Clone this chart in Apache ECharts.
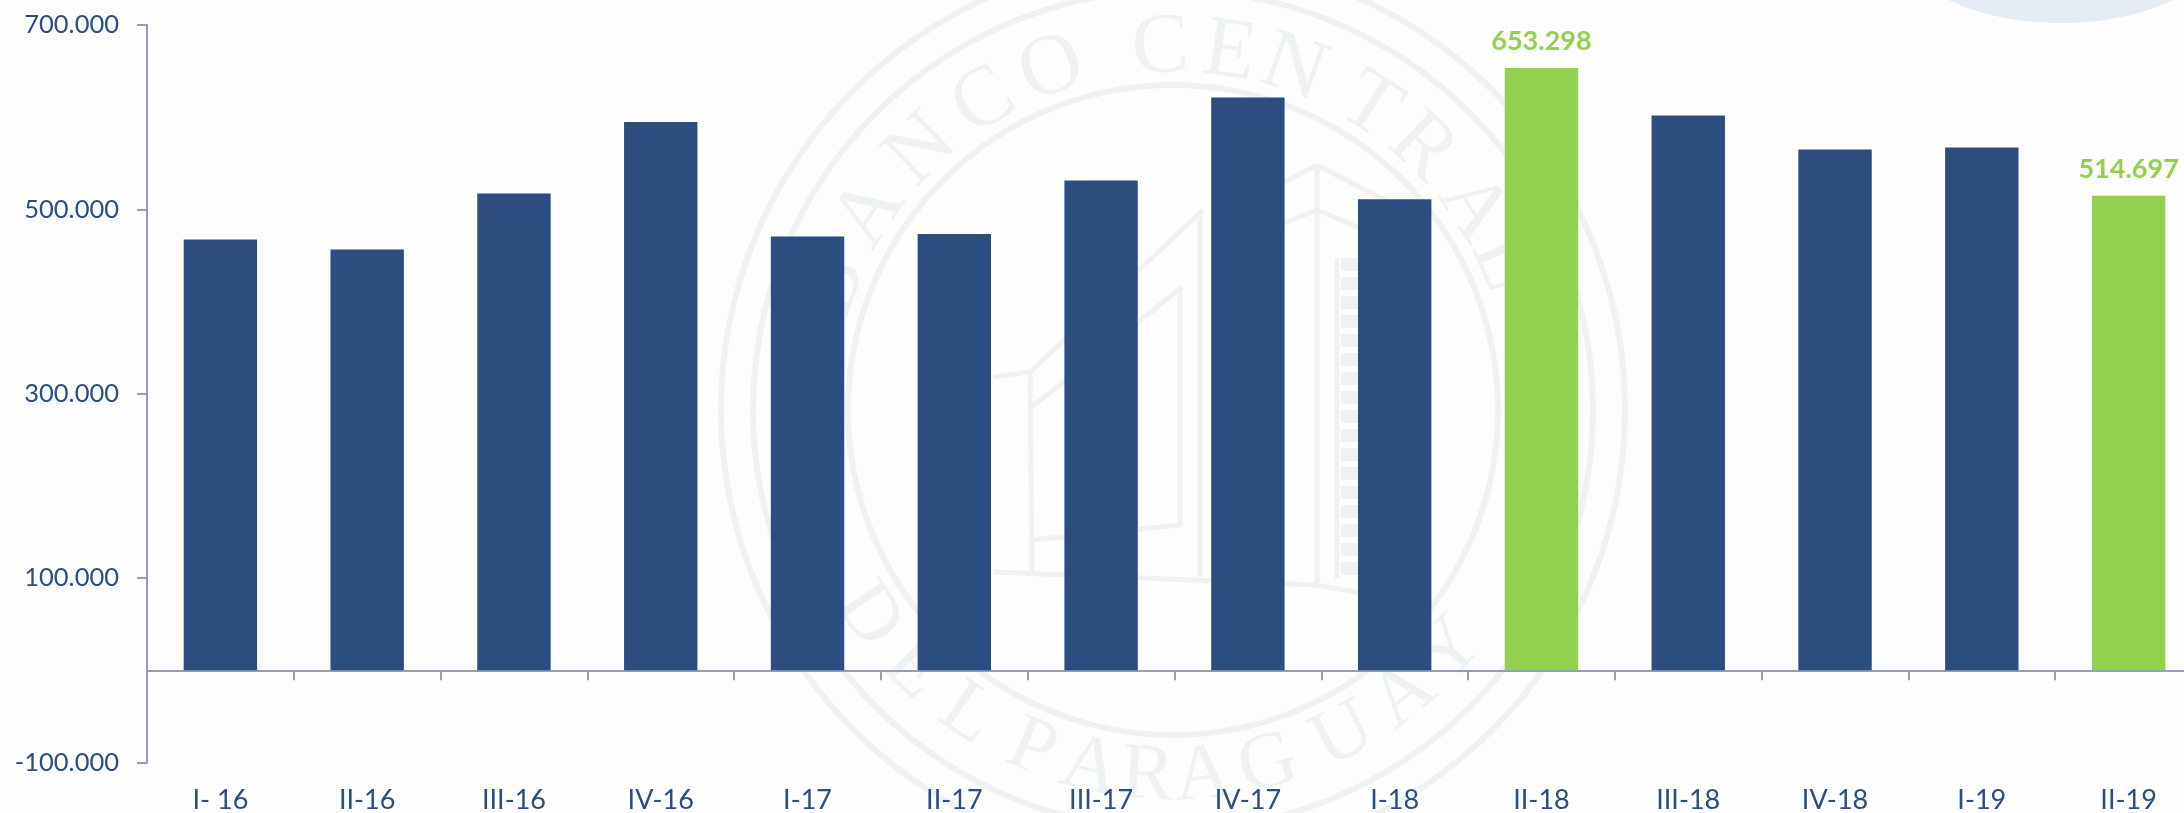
<!DOCTYPE html>
<html>
<head>
<meta charset="utf-8">
<style>html,body{margin:0;padding:0;background:#fdfdfd}#c{width:2184px;height:813px}</style>
<script src="https://cdn.jsdelivr.net/npm/echarts@6/dist/echarts.min.js"></script>
</head>
<body>
<div id="c"></div>
<script>
const categories = ['I- 16','II-16','III-16','IV-16','I-17','II-17','III-17','IV-17','I-18','II-18','III-18','IV-18','I-19','II-19'];
const values = [467300,456400,517200,594700,470600,473400,531400,621400,511100,653298,601700,565000,567100,514697];
const highlighted = ['II-18','II-19'];
const yTicks = [-100000,100000,300000,500000,700000];

const NAVY = '#2b4d7f', GREEN = '#92d14f', AXIS = '#929eb8', WM = '#eef3f1';
const FONT = 'Lato';

// Watermark seal (decoration)
const sealCx = 1173, sealCy = 410;
const sealRings = [452, 420, 325];
const sealTopLetters = ['B','A','N','C','O','C','E','N','T','R','A','L'];
const sealTopAngles = [-70,-57,-44,-31.5,-19.6,-2,9,19.5,33,43.5,56,66];
const sealBottomLetters = ['D','E','L','P','A','R','A','G','U','A','Y'];
const sealBottomAngles = [56,45,34,22.6,13,4,-4.7,-15,-27.6,-39,-49];
const sealLines = [
  [[1317,165],[1317,584]],
  [[1317,165],[1240,205]],
  [[1317,165],[1420,218]],
  [[1317,210],[1240,240]],
  [[1317,210],[1400,245]],
  [[1203,210],[1030,372],[993,377]],
  [[1182,287],[1032,407]],
  [[1030,372],[1032,572]],
  [[1180,287],[1180,525],[1032,540]],
  [[1200,210],[1200,577]],
  [[993,572],[1317,585],[1430,606]],
  [[1337,258],[1337,578]]
];

function sealGraphics() {
  const out = [];
  sealRings.forEach(r => out.push({type:'circle',silent:true,z:-10,shape:{cx:sealCx,cy:sealCy,r:r},style:{fill:'none',stroke:WM,lineWidth:6}}));
  const letter = (ch, deg, r, sign, size) => {
    const a = deg*Math.PI/180;
    out.push({type:'text',silent:true,z:-10,
      x: sealCx + sign*r*Math.sin(a),
      y: sealCy - sign*r*Math.cos(a),
      rotation: -a,
      style:{text:ch,fill:WM,font:size+'px "Liberation Serif"',align:'center',verticalAlign:'middle'}});
  };
  sealTopLetters.forEach((c,i)=>letter(c,sealTopAngles[i],361,1,86));
  sealBottomLetters.forEach((c,i)=>letter(c,sealBottomAngles[i],368,-1,80));
  sealLines.forEach(p => out.push({type:'polyline',silent:true,z:-10,shape:{points:p},style:{fill:'none',stroke:WM,lineWidth:5}}));
  out.push({type:'line',silent:true,z:-10,shape:{x1:1350,y1:258,x2:1350,y2:578},style:{stroke:WM,lineWidth:18,lineDash:[13,6]}});
  out.push({type:'ellipse',silent:true,z:-10,shape:{cx:2061,cy:-57,rx:160,ry:80},style:{fill:'#e5ecf6'}});
  return out;
}

const chart = echarts.init(document.getElementById('c'), null, {renderer:'canvas'});
chart.setOption({
  animation:false,
  backgroundColor:'#fdfdfd',
  graphic:{elements:sealGraphics()},
  grid:{left:147,top:25,width:2055,height:737.5,containLabel:false,outerBoundsMode:'none'},
  xAxis:{
    type:'category',data:categories,
    axisLine:{onZero:true,lineStyle:{color:AXIS,width:2}},
    axisTick:{show:true,length:10,lineStyle:{color:AXIS,width:2}},
    axisLabel:{interval:0,margin:24,color:NAVY,fontFamily:FONT,fontSize:27,hideOverlap:false},
    splitLine:{show:false}
  },
  yAxis:{
    type:'value',min:-100000,max:700000,
    axisLine:{show:true,lineStyle:{color:AXIS,width:2}},
    axisTick:{show:true,length:10,customValues:yTicks,lineStyle:{color:AXIS,width:2}},
    axisLabel:{customValues:yTicks,margin:28,color:NAVY,fontFamily:FONT,fontSize:25.5,
      formatter:v=>String(v).replace(/\B(?=(\d{3})+(?!\d))/g,'.')},
    splitLine:{show:false}
  },
  series:[{
    type:'bar',barWidth:'50%',
    data:values.map((v,i)=>{
      const hi = highlighted.includes(categories[i]);
      return {value:v,itemStyle:{color:hi?GREEN:NAVY},
        label:{show:hi}};
    }),
    label:{position:'top',distance:13,color:GREEN,fontFamily:FONT,fontWeight:'bold',fontSize:27,
      formatter:p=>String(p.value).replace(/\B(?=(\d{3})+(?!\d))/g,'.')}
  }]
});
</script>
</body>
</html>
